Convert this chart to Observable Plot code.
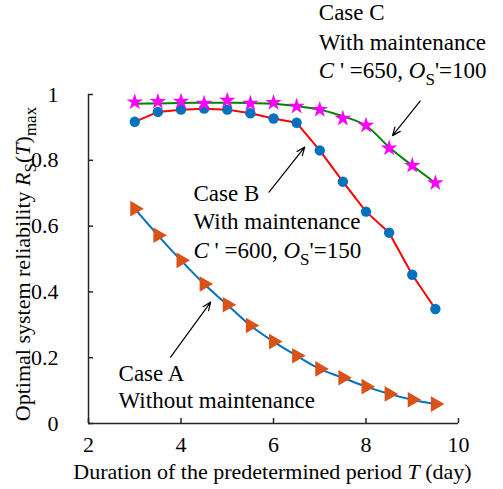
<!DOCTYPE html>
<html>
<head>
<meta charset="utf-8">
<script src="https://cdn.jsdelivr.net/npm/d3@7"></script>
<script src="https://cdn.jsdelivr.net/npm/@observablehq/plot@0.6"></script>
<style>
  html, body { margin: 0; padding: 0; background: #fff; }
  #chart svg { display: block; }
  #chart svg text, #chart svg tspan { font-family: "Liberation Serif", "Times New Roman", serif !important; }
</style>
</head>
<body>
<div id="chart"></div>
<script>
// Duration T (day)
const T = [3, 3.5, 4, 4.5, 5, 5.5, 6, 6.5, 7, 7.5, 8, 8.5, 9, 9.5];
// Case A: without maintenance
const caseA = [0.653, 0.572, 0.496, 0.424, 0.361, 0.298, 0.249, 0.206, 0.166, 0.139, 0.112, 0.090, 0.072, 0.059];
// Case B: with maintenance, C'=600, OS'=150
const caseB = [0.917, 0.947, 0.954, 0.957, 0.954, 0.943, 0.927, 0.914, 0.830, 0.735, 0.644, 0.580, 0.452, 0.348];
// Case C: with maintenance, C'=650, OS'=100 (markers)
const caseC = [0.977, 0.978, 0.979, 0.973, 0.982, 0.973, 0.975, 0.964, 0.954, 0.927, 0.906, 0.837, 0.784, 0.731];
// Case C: fitted curve (green line)
const caseCLine = [0.972, 0.973, 0.974, 0.975, 0.975, 0.974, 0.972, 0.965, 0.954, 0.934, 0.905, 0.840, 0.784, 0.731];

const xTicks = [2, 4, 6, 8, 10];
const yTicks = [0, 0.2, 0.4, 0.6, 0.8, 1];

// annotation texts (anchor x, y in data units)
const noteText = ["Case A", "Without maintenance", "Case B", "With maintenance", "C ' =600, OS'=150", "Case C", "With maintenance", "C ' =650, OS'=100"];
const noteX = [2.65, 2.65, 4.27, 4.27, 4.27, 6.98, 6.98, 6.98];
const noteY = [0.152, 0.070, 0.699, 0.614, 0.526, 1.248, 1.158, 1.073];

// annotation arrows (tail -> head, data units)
const arrowX1 = [3.775, 5.903, 9.171];
const arrowY1 = [0.2015, 0.703, 0.980];
const arrowX2 = [4.641, 6.675, 8.573];
const arrowY2 = [0.369, 0.840, 0.875];

const seriesA = T.map((t, i) => ({t, v: caseA[i]}));
const seriesB = T.map((t, i) => ({t, v: caseB[i]}));
const seriesC = T.map((t, i) => ({t, v: caseC[i]}));
const seriesCL = T.map((t, i) => ({t, v: caseCLine[i]}));
const notes = noteText.map((s, i) => ({s, x: noteX[i], y: noteY[i]}));
const arrows = arrowX1.map((x1, i) => ({x1, y1: arrowY1[i], x2: arrowX2[i], y2: arrowY2[i]}));

const W = 503, H = 489;
const mL = 88, mR = 45, mT = 94, mB = 66;
const axisColor = "#262626";
const FF = "Liberation Serif";
const FS = 23;   // annotation text
const TS = 22;   // tick labels
const LS = 22;   // axis titles

const plot = Plot.plot({
  width: W,
  height: H,
  marginLeft: mL,
  marginRight: mR,
  marginTop: mT,
  marginBottom: mB,
  style: {fontFamily: "'Liberation Serif', serif", fontSize: FS + "px", background: "#fff", color: "#000"},
  x: {domain: [2, 10]},
  y: {domain: [0, 1]},
  marks: [
    Plot.axisX({ticks: xTicks, tickSize: 0, tickPadding: 13, label: null, fontSize: TS, fontFamily: FF, fill: "#000"}),
    Plot.axisY({ticks: yTicks, tickSize: 0, tickPadding: 30, tickFormat: d3.format("~g"), label: null, fontSize: TS, fontFamily: FF, fill: "#000"}),
    // inward ticks
    Plot.tickX(xTicks, {x: d => d, insetTop: H - mT - mB - 5, stroke: axisColor, strokeWidth: 1.5}),
    Plot.tickY(yTicks, {y: d => d, insetRight: W - mL - mR - 5, stroke: axisColor, strokeWidth: 1.5}),
    Plot.ruleX([2], {stroke: axisColor, strokeWidth: 1.5}),
    Plot.ruleY([0], {stroke: axisColor, strokeWidth: 1.5}),
    // axis titles
    Plot.text(["Duration of the predetermined period T (day)"], {frameAnchor: "bottom", textAnchor: "middle", lineAnchor: "middle", dx: -1, dy: 48, fontSize: LS, fontFamily: FF, fill: "#000", text: d => d}),
    Plot.text(["Optimal system reliability RS(T)max"], {frameAnchor: "left", textAnchor: "middle", lineAnchor: "middle", dx: -66, dy: 5, rotate: -90, fontSize: LS, fontFamily: FF, fill: "#000", text: d => d}),
    // Case A
    Plot.line(seriesA, {x: "t", y: "v", stroke: "#0072BD", strokeWidth: 2, curve: "catmull-rom"}),
    Plot.dot(seriesA, {x: "t", y: "v", symbol: "triangle", rotate: 90, r: 5.8, fill: "#D95319", stroke: "none"}),
    // Case B
    Plot.line(seriesB, {x: "t", y: "v", stroke: "#FF0000", strokeWidth: 2}),
    Plot.dot(seriesB, {x: "t", y: "v", r: 5.2, fill: "#0072BD", stroke: "none"}),
    // Case C
    Plot.line(seriesCL, {x: "t", y: "v", stroke: "#008000", strokeWidth: 2, curve: "catmull-rom"}),
    Plot.dot(seriesC, {x: "t", y: "v", symbol: "star", r: 5.2, fill: "#FF00FF", stroke: "none"}),
    // annotations
    Plot.arrow(arrows, {x1: "x1", y1: "y1", x2: "x2", y2: "y2", stroke: "#000", strokeWidth: 1.2, headLength: 11, headAngle: 45}),
    Plot.text(notes, {x: "x", y: "y", text: "s", textAnchor: "start", lineAnchor: "middle", fontSize: FS, fontFamily: FF, fill: "#000"})
  ]
});

// rich text (italics and subscripts) for labels
const rich = {
  "Duration of the predetermined period T (day)":
    'Duration of the predetermined period <tspan font-style="italic">T</tspan> (day)',
  "Optimal system reliability RS(T)max":
    'Optimal system reliability <tspan font-style="italic">R</tspan><tspan dy="6" font-size="17">S</tspan><tspan dy="-6">(</tspan><tspan font-style="italic">T</tspan>)<tspan dy="6" font-size="17">max</tspan>',
  "C ' =600, OS'=150":
    '<tspan font-style="italic">C</tspan> \' =600, <tspan font-style="italic">O</tspan><tspan dy="7" font-size="17">S</tspan><tspan dy="-7">\'=150</tspan>',
  "C ' =650, OS'=100":
    '<tspan font-style="italic">C</tspan> \' =650, <tspan font-style="italic">O</tspan><tspan dy="7" font-size="17">S</tspan><tspan dy="-7">\'=100</tspan>'
};
d3.select(plot).selectAll("text").each(function() {
  const t = this.textContent;
  if (rich[t] !== undefined) this.innerHTML = rich[t];
});

document.getElementById("chart").appendChild(plot);
</script>
</body>
</html>
